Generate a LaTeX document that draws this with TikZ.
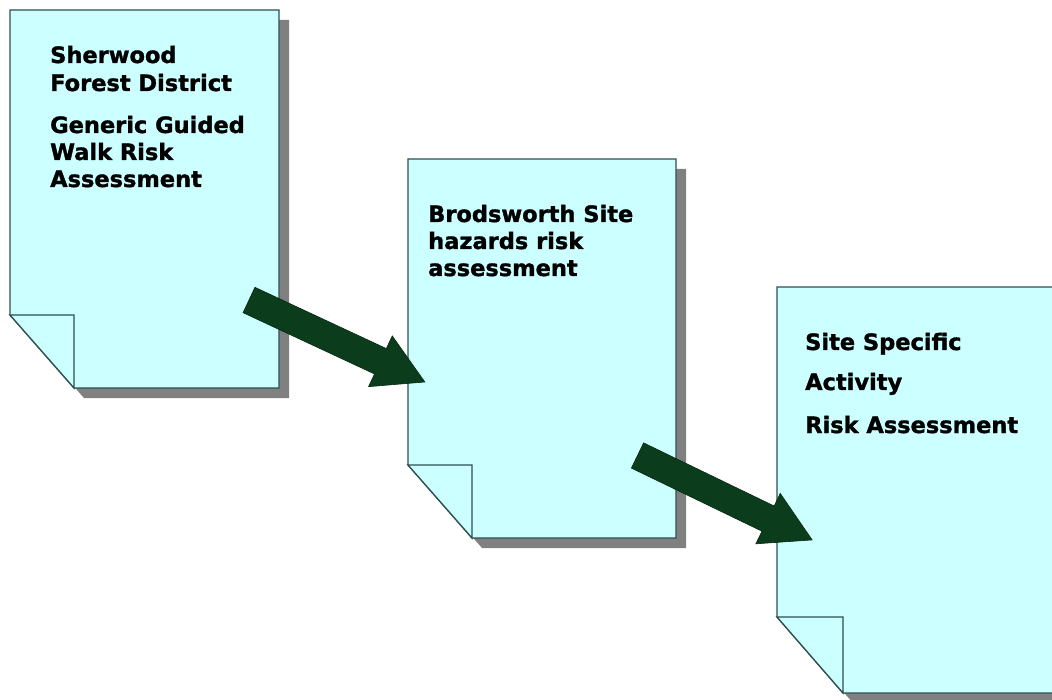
\documentclass[tikz,border=0pt]{standalone}
\usepackage{fontspec}
\setmainfont{DejaVu Sans}[BoldFeatures={FakeBold=1.4}]
\usetikzlibrary{calc}

\definecolor{paper}{HTML}{CCFFFF}
\definecolor{paperedge}{HTML}{2F4F4F}
\definecolor{shade}{HTML}{808080}
\definecolor{arrowgreen}{HTML}{0B3D1C}
\definecolor{arrowedge}{HTML}{062812}

\tikzset{
  sheet/.style={fill=paper, draw=paperedge, line width=1.3pt, line join=miter},
  sheetshadow/.style={fill=shade, draw=none},
  label/.style={anchor=base west, inner sep=0pt, font=\fontsize{22.5}{26}\selectfont\bfseries, text=black},
  blockarrow/.style={fill=arrowgreen, draw=arrowedge, line width=0.6pt, line join=miter}
}

% a sheet with its lower-left corner turned up:
% #1 left, #2 top, #3 right, #4 bottom, #5 fold x, #6 fold y
\newcommand{\foldedsheet}[6]{%
  \fill[sheetshadow] (#1+10,#2+10) -- (#3+10,#2+10) -- (#3+10,#4+10) -- (#5+10,#4+10) -- (#1+10,#6+10) -- cycle;
  \draw[sheet] (#1,#2) -- (#3,#2) -- (#3,#4) -- (#5,#4) -- (#1,#6) -- cycle;
  \draw[sheet] (#1,#6) -- (#5,#6) -- (#5,#4) -- cycle;
}

% a thick block arrow: #1 tail, #2 angle, #3 length
\newcommand{\blockarrow}[3]{%
  \begin{scope}[shift={(#1)}, rotate=#2]
    \draw[blockarrow] (0,-14) -- (#3-49,-14) -- (#3-49,-28) -- (#3,0)
      -- (#3-49,28) -- (#3-49,14) -- (0,14) -- cycle;
  \end{scope}%
}

\begin{document}
\begin{tikzpicture}[x=1pt, y=-1pt]
  \useasboundingbox (0,0) rectangle (1052,700);

  % the three sheets
  \foldedsheet{10}{10}{279}{388}{74}{315}
  \foldedsheet{408}{159}{676}{538}{472}{465}
  \foldedsheet{777}{287}{1075}{693}{843}{617}

  % texts of the first sheet
  \node[label] (s1a) at (50,63)  {Sherwood};
  \node[label] (s1b) at (50,91)  {Forest District};
  \node[label] (s1c) at (50,133) {Generic Guided};
  \node[label] (s1d) at (50,160) {Walk Risk};
  \node[label] (s1e) at (50,187) {Assessment};

  % texts of the second sheet
  \node[label] (s2a) at (428,222) {Brodsworth Site};
  \node[label] (s2b) at (428,249) {hazards risk};
  \node[label] (s2c) at (428,276) {assessment};

  % texts of the third sheet
  \node[label] (s3a) at (805,350) {Site Specific};
  \node[label] (s3b) at (805,390) {Activity};
  \node[label] (s3c) at (805,433) {Risk Assessment};

  % arrows from sheet to sheet
  \coordinate (a1) at (249,300);
  \coordinate (a2) at (637.5,455.5);
  \blockarrow{a1}{-25}{194}
  \blockarrow{a2}{-25.8}{194}
\end{tikzpicture}
\end{document}
